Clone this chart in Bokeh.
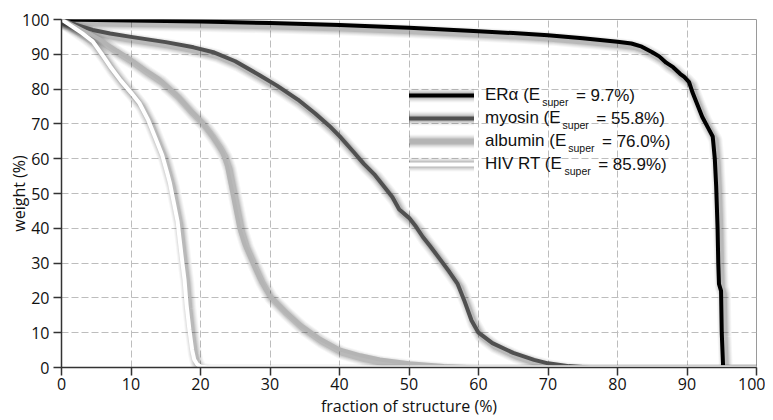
import numpy as np
from bokeh.plotting import figure
from bokeh.models import Legend, LegendItem, Label, FixedTicker, Range1d
from bokeh.embed import file_html
from bokeh.resources import INLINE

# ---------------- data ----------------
names = ["ERα", "myosin", "albumin", "HIV RT"]
e_super = ["9.7%", "55.8%", "76.0%", "85.9%"]

era_x = [0, 10, 20, 30, 40, 50, 60, 65, 70, 75, 80, 82, 83.5, 85, 86, 87, 88, 89, 89.6, 90.3,
         90.8, 91.5, 92.2, 93, 93.7, 94.0, 94.2, 94.4, 94.5, 94.6, 94.9, 95.0, 95.2, 100]
era_y = [100, 99.7, 99.4, 99, 98.4, 97.6, 96.6, 96.1, 95.5, 94.6, 93.6, 93.1, 92.2, 90.6,
         89.4, 87.6, 86.3, 84.4, 83.5, 82, 79, 75.5, 72, 69, 66.4, 60, 52, 40, 30, 24, 22,
         10, 0, 0]

myo_x = [0, 2, 4.5, 7, 10, 15, 19, 22, 25, 28.5, 31, 34, 36.5, 38.5, 40, 42, 43.5, 45, 46.2,
         47.6, 48.6, 50, 51, 52, 53, 54.5, 55.8, 57, 58, 59, 60, 62, 65, 68, 70, 73, 76, 100]
myo_y = [100, 98.5, 97, 96, 95, 93.5, 92, 90.5, 88, 84, 81, 77, 73, 69.5, 66.5, 62, 58.5,
         55.5, 52.5, 49, 45.4, 43, 40.5, 37.5, 35, 31, 27.5, 24, 19, 13.5, 10, 7, 4.2, 2.2,
         1.2, 0.4, 0, 0]

alb_x = [0, 2, 4, 5.5, 8, 10, 12, 14, 16.5, 18.5, 20, 21.5, 22.5, 23.2, 23.8, 24.2, 24.7,
         25.2, 25.6, 26.3, 27.5, 28.5, 29.8, 32, 34.2, 37, 40, 43, 45.8, 50, 55, 60, 100]
alb_y = [100, 98, 96, 94.3, 91, 88.5, 85.6, 83, 78.5, 74, 71, 67, 64, 61.5, 58, 54, 49,
         44, 40, 35.5, 30, 25.5, 21, 16.5, 12.5, 8.5, 5.2, 3.5, 2.3, 1.2, 0.4, 0, 0]

hiv_x = [0, 1.5, 3, 4.5, 6, 7, 8.5, 10, 11.2, 12.5, 13.5, 14.5, 15.2, 15.6, 16.2, 16.7, 17,
         17.4, 17.7, 18, 18.4, 18.8, 19.1, 19.5, 20, 21, 100]
hiv_y = [100, 98, 96, 93.7, 89.5, 86.5, 82.5, 79, 76, 71, 66, 61, 56, 53, 47, 42, 36.8, 30,
         25.3, 18, 10.9, 5, 2.3, 1, 0.3, 0, 0]

series_x = [era_x, myo_x, alb_x, hiv_x]
series_y = [era_y, myo_y, alb_y, hiv_y]
colors = ["#000000", "#505050", "#b4b4b4", "#ffffff"]

ticks = list(range(0, 101, 10))

# ---------------- figure ----------------
p = figure(frame_width=695, frame_height=348, output_backend="svg", toolbar_location=None,
           x_range=Range1d(0, 100), y_range=Range1d(0, 100),
           min_border_left=61, min_border_right=9, min_border_top=19, min_border_bottom=37,
           background_fill_color="white", border_fill_color="white")
p.outline_line_color = "#9a9a9a"
p.outline_line_width = 1

for ax, lab in ((p.xaxis, "fraction of structure (%)"), (p.yaxis, "weight (%)")):
    ax.ticker = FixedTicker(ticks=ticks)
    ax.axis_label = lab
    ax.axis_label_text_font = "Open Sans"
    ax.axis_label_text_font_size = "16px"
    ax.axis_label_text_font_style = "normal"
    ax.axis_label_text_color = "#111111"
    ax.major_label_text_font = "Open Sans"
    ax.major_label_text_font_size = "16px"
    ax.major_label_text_color = "#111111"
    ax.axis_line_color = "#333333"
    ax.axis_line_width = 1.5
    ax.major_tick_line_color = "#333333"
    ax.major_tick_line_width = 1.5
    ax.major_tick_out = 8
    ax.major_tick_in = 0
    ax.minor_tick_line_color = None
p.xaxis.major_label_standoff = 2
p.xaxis.axis_label_standoff = 2
p.yaxis.major_label_standoff = 4
p.yaxis.axis_label_standoff = -11

for g in (p.xgrid, p.ygrid):
    g.ticker = FixedTicker(ticks=ticks)
    g.grid_line_color = "#bdbdbd"
    g.grid_line_dash = "7 3"
    g.grid_line_width = 1

# soft drop shadow (down-right), built from the same series
shadow_layers = [(14, 0.035), (12, 0.045), (10, 0.055), (8, 0.07), (6, 0.1)]
shadow_renderers = []
for xs, ys in zip(series_x, series_y):
    sx = np.array(xs, dtype=float) + 0.4
    sy = np.array(ys, dtype=float) - 1.0
    rs = []
    for w, a in shadow_layers:
        rs.append(p.line(sx, sy, line_color="black", line_alpha=a, line_width=w,
                         line_join="round", line_cap="round"))
    shadow_renderers.append(rs)

main_renderers = []
for xs, ys, c in zip(series_x, series_y, colors):
    main_renderers.append(p.line(xs, ys, line_color=c, line_width=4,
                                 line_join="round", line_cap="round"))

# ---------------- legend ----------------
main_parts = [f"{n} (E" for n in names]
tail_parts = [f"= {v})" for v in e_super]

leg_x, leg_y = 348, 193
glyph_w, row_h, spacing, standoff = 65, 20, 3, 11
items = [LegendItem(label=mp, renderers=shadow_renderers[i] + [main_renderers[i]])
         for i, mp in enumerate(main_parts)]
legend = Legend(items=items, location=(leg_x, leg_y), padding=0, margin=0,
                spacing=spacing, glyph_width=glyph_w, glyph_height=row_h,
                label_height=row_h, label_standoff=standoff,
                border_line_alpha=0, background_fill_alpha=0,
                label_text_font="Liberation Sans", label_text_font_size="17px",
                label_text_color="#111111")
p.add_layout(legend, "center")

# Arial/Liberation Sans advance widths (em)
W = {"E": .667, "R": .722, "α": .578, " ": .278, "(": .333, ")": .333, "m": .833,
     "y": .5, "o": .556, "s": .5, "i": .222, "n": .556, "a": .556, "l": .222,
     "b": .556, "u": .556, "H": .722, "I": .278, "V": .667, "T": .611, "=": .584,
     ".": .278, "%": .889, "p": .556, "e": .556, "r": .333}
def width(s, size):
    return sum(W.get(ch, .556) for ch in s) * size

text_x0 = leg_x + glyph_w + standoff
n_rows = len(names)
leg_h = n_rows * row_h + (n_rows - 1) * spacing
for i, mp in enumerate(main_parts):
    cy = leg_y + leg_h - row_h / 2 - i * (row_h + spacing)
    xs = text_x0 + width(mp, 17) + 1.5
    p.add_layout(Label(x=xs, y=cy - 6, x_units="screen", y_units="screen", text="super",
                       text_font="Liberation Sans", text_font_size="10.5px",
                       text_baseline="middle", text_color="#111111"))
    xt = xs + width("super", 10.5) + 7.5
    p.add_layout(Label(x=xt, y=cy, x_units="screen", y_units="screen", text=tail_parts[i],
                       text_font="Liberation Sans", text_font_size="17px",
                       text_baseline="middle", text_color="#111111"))

open("out.html", "w").write(file_html(p, INLINE))
